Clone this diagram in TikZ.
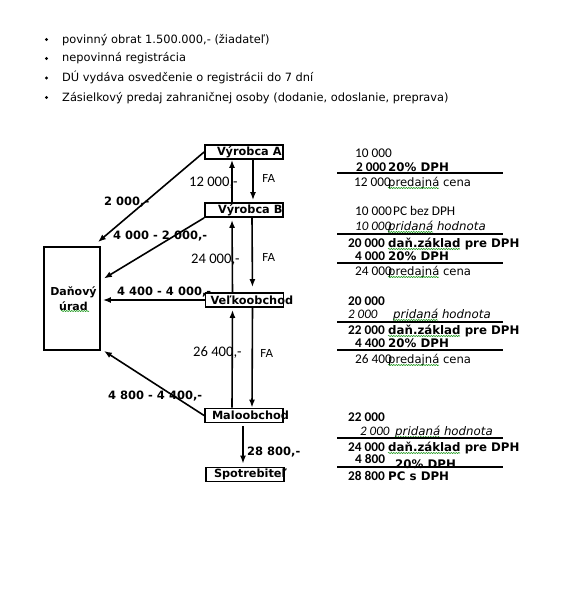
\documentclass[tikz,border=0pt]{standalone}
\usepackage{fontspec}
\setmainfont{DejaVu Sans}
\newfontfamily\calib{Carlito}
\usepackage{tikz}
\usetikzlibrary{arrows.meta,decorations.pathmorphing}

\tikzset{
  firma/.style={draw, line width=1.8pt, minimum height=14pt, inner xsep=7pt, inner ysep=0pt, font=\fontsize{11.3}{13}\selectfont\bfseries},
  sipka/.style={line width=1.6pt, -{Latex[length=8pt,width=6pt]}},
  ciara/.style={line width=1.8pt},
  chyba/.style={draw=green!55!black, line width=0.5pt, decorate, decoration={snake, amplitude=0.6pt, segment length=2.5pt}},
  popis/.style={anchor=west, inner sep=0pt},
  odrazka/.style={anchor=base west, inner sep=0pt, font=\fontsize{11.4}{13}\selectfont},
  cislo/.style={anchor=base west, inner sep=0pt, font=\calib\fontsize{13.3}{15}\selectfont},
  slovo/.style={anchor=base west, inner sep=0pt, font=\fontsize{11.6}{14}\selectfont},
}
\newcommand{\tucne}{\bfseries\fontsize{11.5}{13}\selectfont}
\newcommand{\kurz}{\itshape\fontsize{11.8}{14}\selectfont}
\newcommand{\firmatext}[1]{\makebox[64pt][l]{#1}}

\begin{document}
\begin{tikzpicture}[x=1pt,y=-1pt]
\fill[white] (0,0) rectangle (570,591);
\useasboundingbox (0,0) rectangle (570,591);

% odrazky
\fill (46.5,39.5) circle (1.7);
\fill (46.5,58.5) circle (1.7);
\fill (46.5,78) circle (1.7);
\fill (46.5,97.5) circle (1.7);
\node[odrazka] (b1) at (62,43.5) {povinný obrat 1.500.000,- (žiadateľ)};
\node[odrazka] (b2) at (62,62) {nepovinná registrácia};
\node[odrazka] (b3) at (62,81.5) {DÚ vydáva osvedčenie o registrácii do 7 dní};
\node[odrazka] (b4) at (62,101.5) {Zásielkový predaj zahraničnej osoby (dodanie, odoslanie, preprava)};

% firmy
\node[firma] (vA) at (244,152) {\firmatext{\hspace*{5pt}Výrobca A}};
\node[firma] (vB) at (244,210) {\firmatext{\hspace*{6pt}Výrobca B}};
\node[firma] (vk) at (244.5,300) {\firmatext{\hspace*{-2pt}Veľkoobchod}};
\node[firma] (mo) at (244,415.5) {\firmatext{Maloobchod}};
\node[firma] (sp) at (245,474.5) {\firmatext{\hspace*{1pt}Spotrebiteľ}};
\node[draw, line width=1.8pt, minimum width=56pt, minimum height=103pt, align=center, font=\fontsize{11}{15}\selectfont\bfseries] (du) at (72,298.5) {\hspace*{3pt}Daňový\\\hspace*{3pt}úrad};
\draw[chyba] (61,311) -- (89,311);

% popisy sipok
\node[popis, font=\calib\fontsize{14.6}{16}\selectfont] (p12) at (189,183) {12 000,-};
\node[popis, font=\calib\fontsize{14.6}{16}\selectfont] (p24) at (191,260) {24 000,-};
\node[popis, font=\calib\fontsize{14.6}{16}\selectfont] (p26) at (193,353) {26 400,-};
\node[popis, font=\fontsize{11}{13}\selectfont] (fa1) at (262,178) {FA};
\node[popis, font=\fontsize{11}{13}\selectfont] (fa2) at (262,257) {FA};
\node[popis, font=\fontsize{11}{13}\selectfont] (fa3) at (260,353) {FA};
\node[popis, font=\tucne] (d1) at (104,202) {2 000,-};
\node[popis, font=\tucne] (d2) at (113,236) {4 000 - 2 000,-};
\node[popis, font=\tucne] (d3) at (117,292) {4 400 - 4 000,-};
\node[popis, font=\tucne] (d4) at (108,396) {4 800 - 4 400,-};
\node[popis, font=\tucne] (d5) at (247,452) {28 800,-};

% sipky
\draw[sipka] (vA.west) -- ([shift={(-3,-4)}]du.north east);
\draw[sipka] (vB.south west) -- ([shift={(3,-20)}]du.east);
\draw[sipka] (vk.west) -- ([xshift=2pt]vk.west -| du.east);
\draw[sipka] (mo.west) -- ([xshift=3pt]du.south east);

\draw[sipka] ([xshift=-12pt]vB.north) -- ([xshift=-12pt]vA.south);
\draw[sipka, shorten >=2pt] ([xshift=9pt]vA.south) -- ([xshift=9pt]vB.north);
\draw[sipka, shorten >=2pt] ([xshift=-12pt]vk.north) -- ([xshift=-12pt]vB.south);
\draw[sipka, shorten >=5pt] ([xshift=8pt]vB.south) -- ([xshift=8pt]vk.north);
\draw[sipka, shorten >=2pt] ([xshift=-12pt]mo.north) -- ([xshift=-12pt]vk.south);
\draw[sipka] ([xshift=8pt]vk.south) -- ([xshift=8pt]mo.north);
\draw[sipka, shorten <=3pt, shorten >=3pt] ([xshift=-1pt]mo.south) -- ([xshift=-2pt]sp.north);

% vypocet vpravo
\node[cislo] (c1) at (355,157) {10 000};
\node[cislo, font=\calib\bfseries\fontsize{13.3}{15}\selectfont] (c2) at (356,171) {2 000};
\node[slovo, font=\bfseries\fontsize{11.8}{14}\selectfont] (s2) at (388,171) {20\% DPH};
\draw[ciara] (337,173) -- (503,173);
\node[cislo] (c3) at (354,186) {12 000};
\node[slovo] (s3) at (388,186) {predajná cena};
\draw[chyba] ([yshift=-2pt]s3.base west) -- ++(51,0);

\node[cislo] (c4) at (355,215) {10 000};
\node[cislo] (s4) at (393,215) {PC bez DPH};
\node[cislo, font=\calib\itshape\fontsize{13}{14}\selectfont] (c5) at (355,230) {10 000};
\node[slovo, font=\kurz] (s5) at (388,230) {pridaná hodnota};
\draw[chyba] ([yshift=-2pt]s5.base west) -- ++(45,0);
\draw[ciara] (337,234) -- (503,234);
\node[cislo, font=\calib\bfseries\fontsize{13.3}{15}\selectfont] (c6) at (348,247) {20 000};
\node[slovo, font=\bfseries\fontsize{11.8}{14}\selectfont] (s6) at (388,247) {daň.základ pre DPH};
\draw[chyba] ([yshift=-2pt]s6.base west) -- ++(72,0);
\node[cislo, font=\calib\bfseries\fontsize{13.3}{15}\selectfont] (c7) at (355,260) {4 000};
\node[slovo, font=\bfseries\fontsize{11.8}{14}\selectfont] (s7) at (388,260) {20\% DPH};
\draw[ciara] (337,263) -- (503,263);
\node[cislo] (c8) at (355,275) {24 000};
\node[slovo] (s8) at (388,275) {predajná cena};
\draw[chyba] ([yshift=-2pt]s8.base west) -- ++(51,0);

\node[cislo, font=\calib\bfseries\fontsize{13.3}{15}\selectfont] (c9) at (348,305) {20 000};
\node[cislo, font=\calib\itshape\fontsize{13}{14}\selectfont] (c10) at (348,318) {2 000};
\node[slovo, font=\kurz] (s10) at (393,318) {pridaná hodnota};
\draw[chyba] ([yshift=-2pt]s10.base west) -- ++(45,0);
\draw[ciara] (337,322) -- (503,322);
\node[cislo, font=\calib\bfseries\fontsize{13.3}{15}\selectfont] (c11) at (348,334) {22 000};
\node[slovo, font=\bfseries\fontsize{11.8}{14}\selectfont] (s11) at (388,334) {daň.základ pre DPH};
\draw[chyba] ([yshift=-2pt]s11.base west) -- ++(72,0);
\node[cislo, font=\calib\bfseries\fontsize{13.3}{15}\selectfont] (c12) at (355,347) {4 400};
\node[slovo, font=\bfseries\fontsize{11.8}{14}\selectfont] (s12) at (388,347) {20\% DPH};
\draw[ciara] (337,350) -- (503,350);
\node[cislo] (c13) at (355,363) {26 400};
\node[slovo] (s13) at (388,363) {predajná cena};
\draw[chyba] ([yshift=-2pt]s13.base west) -- ++(51,0);

\node[cislo, font=\calib\bfseries\fontsize{13.3}{15}\selectfont] (c14) at (348,421) {22 000};
\node[cislo, font=\calib\itshape\fontsize{13}{14}\selectfont] (c15) at (360,435) {2 000};
\node[slovo, font=\kurz] (s15) at (395,435) {pridaná hodnota};
\draw[chyba] ([yshift=-2pt]s15.base west) -- ++(45,0);
\draw[ciara] (337,438) -- (503,438);
\node[cislo, font=\calib\bfseries\fontsize{13.3}{15}\selectfont] (c16) at (348,451) {24 000};
\node[slovo, font=\bfseries\fontsize{11.8}{14}\selectfont] (s16) at (388,451) {daň.základ pre DPH};
\draw[chyba] ([yshift=-2pt]s16.base west) -- ++(72,0);
\node[cislo, font=\calib\bfseries\fontsize{13.3}{15}\selectfont] (c17) at (355,463) {4 800};
\node[slovo, font=\bfseries\fontsize{11.8}{14}\selectfont] (s17) at (395,468) {20\% DPH};
\draw[ciara] (337,467) -- (503,467);
\node[cislo, font=\calib\bfseries\fontsize{13.3}{15}\selectfont] (c18) at (348,480) {28 800};
\node[slovo, font=\bfseries\fontsize{11.8}{14}\selectfont] (s18) at (388,480) {PC s DPH};

\end{tikzpicture}
\end{document}
